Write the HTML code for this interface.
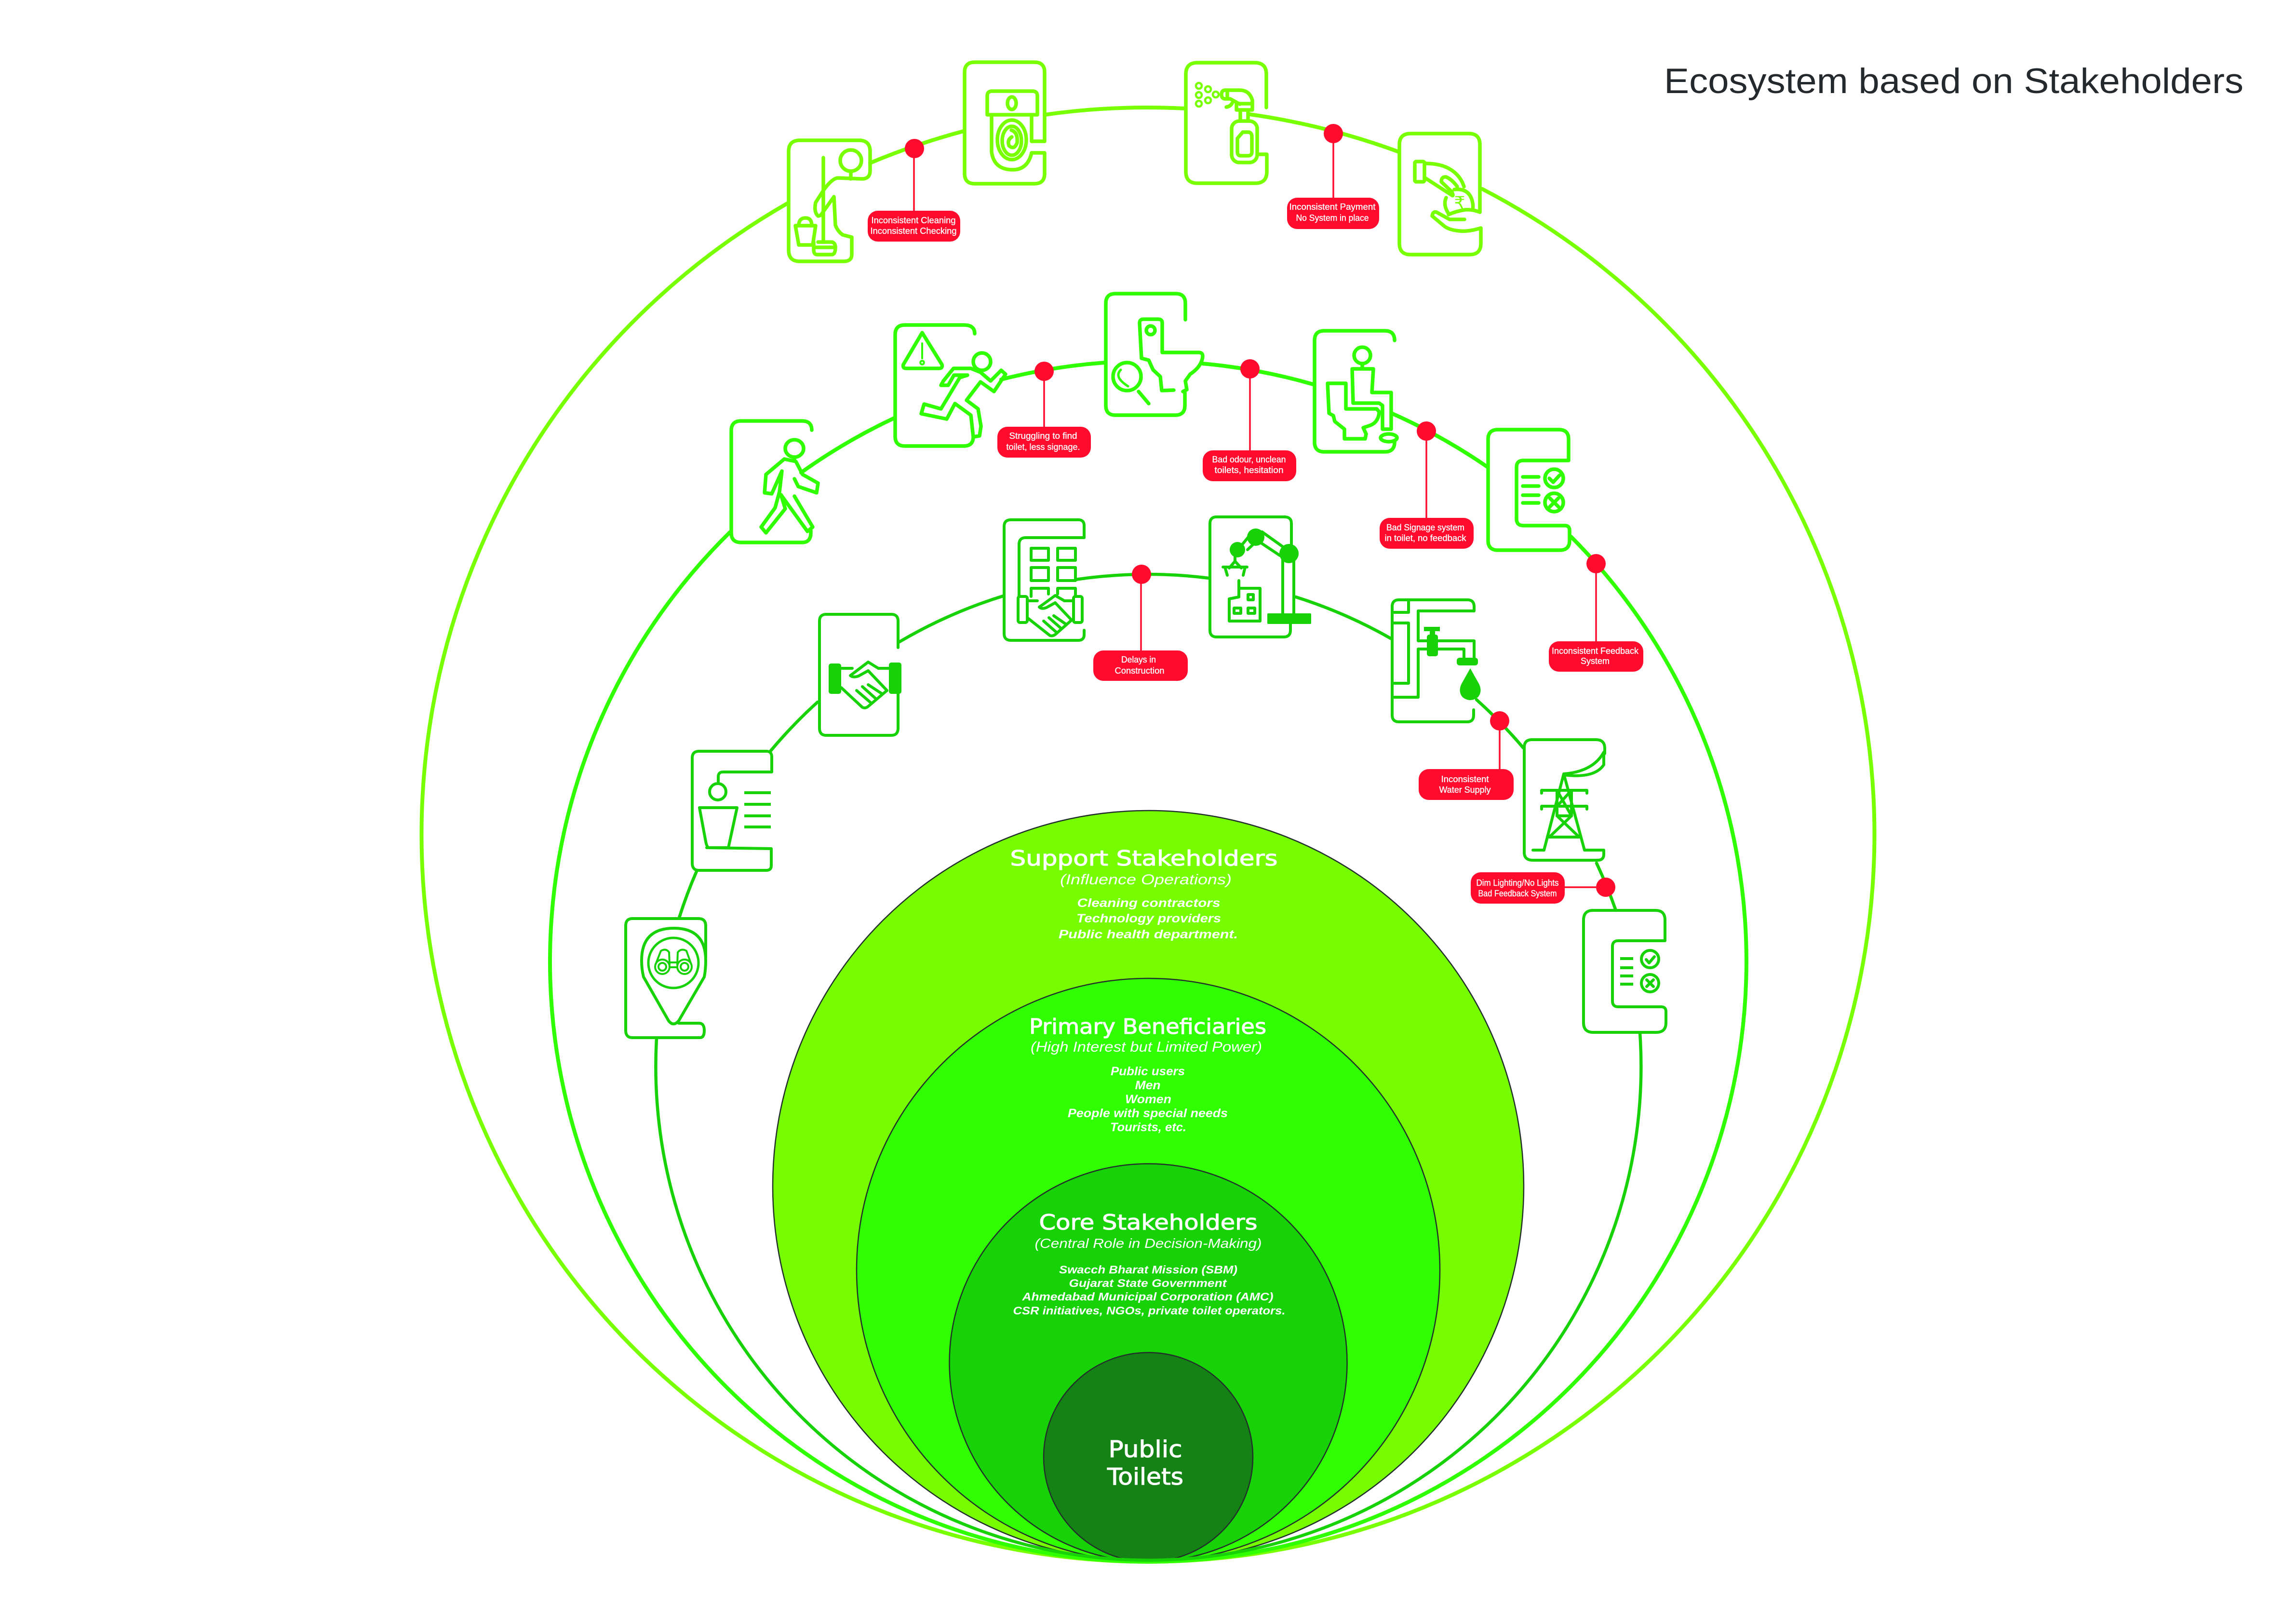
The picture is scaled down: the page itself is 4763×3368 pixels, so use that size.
<!DOCTYPE html>
<html><head><meta charset="utf-8"><title>Ecosystem based on Stakeholders</title>
<style>
html,body{margin:0;padding:0;background:#fff}
svg{display:block}
.a{fill:none;stroke-linejoin:round;stroke-linecap:round}
.o{stroke:#78ff00;stroke-width:7.5}
.m{stroke:#2fff00;stroke-width:7.5}
.i{stroke:#18d208;stroke-width:6}
.fi{fill:#18d208;stroke:none}
.lb{font-family:"Liberation Sans",sans-serif;font-size:18px;fill:#fff;stroke:#fff;stroke-width:.35;text-anchor:middle}
.h{font-family:"DejaVu Sans",sans-serif;font-size:44px;fill:#fff;stroke:#fff;stroke-width:1.1;text-anchor:middle}
.s{font-family:"Liberation Sans",sans-serif;font-size:30px;font-style:italic;fill:#fff;text-anchor:middle}
.l{font-family:"Liberation Sans",sans-serif;font-size:25px;font-style:italic;font-weight:bold;fill:#fff;text-anchor:middle}
.dot{fill:#ff0b2d}
.st{stroke:#ff0b2d;stroke-width:3.5;fill:none}
</style></head><body>
<svg width="4763" height="3368" viewBox="0 0 4763 3368" xmlns="http://www.w3.org/2000/svg">
<rect width="4763" height="3368" fill="#fff"/>

<text x="3452" y="193" font-family="Liberation Sans, sans-serif" font-size="73" fill="#24292d" textLength="1202" lengthAdjust="spacingAndGlyphs">Ecosystem based on Stakeholders</text>

<!-- Filled circles -->
<circle cx="2382" cy="2460" r="779" fill="#76fd00" stroke="#22302a" stroke-width="2.5"/>
<circle cx="2382" cy="2634" r="605" fill="#2fff00" stroke="#22302a" stroke-width="2.5"/>
<circle cx="2382" cy="2826" r="412.5" fill="#18d208" stroke="#22302a" stroke-width="2.5"/>
<circle cx="2382" cy="3022" r="217" fill="#148214" stroke="#22302a" stroke-width="2.5"/>

<!-- Outer ring -->
<g class="a" style="stroke:#78ff00;stroke-width:8">
<path d="M1633,422 A1507,1508 0 1 0 3075,392"/>
<path d="M1805,338 A1508,1508 0 0 1 1999,272"/>
<path d="M2167,238 A1508,1508 0 0 1 2458,225"/>
<path d="M2592,237 A1508,1508 0 0 1 2902,315"/>
</g>
<!-- Middle ring -->
<g class="a" style="stroke:#2fff00;stroke-width:8">
<path d="M1515,1103 A1241,1245 0 1 0 3259,1113"/>
<path d="M1662,980 A1241,1245 0 0 1 1855,867"/>
<path d="M2077,787 A1241,1245 0 0 1 2292,752"/>
<path d="M2495,754 A1241,1245 0 0 1 2724,797"/>
<path d="M2889,858 A1241,1245 0 0 1 3085,968"/>
</g>
<!-- Inner ring -->
<g class="a" style="stroke:#18d208;stroke-width:6.5">
<path d="M1362,2154 A1022,1024 0 1 0 3402,2142"/>
<path d="M1409,1903 A1022,1024 0 0 1 1445,1807"/>
<path d="M1598,1558 A1022,1024 0 0 1 1696,1456"/>
<path d="M1866,1331 A1022,1024 0 0 1 2081,1236"/>
<path d="M2231,1202 A1022,1024 0 0 1 2508,1199"/>
<path d="M2688,1238 A1022,1024 0 0 1 2885,1324"/>
<path d="M3063,1451 A1022,1024 0 0 1 3160,1551"/>
<path d="M3312,1790 A1022,1024 0 0 1 3352,1888"/>
</g>

<!-- ICON A cleaner -->
<g class="a o">
<path d="M1636,314 Q1636,291 1659,291 H1782 Q1805,291 1805,314 V354 Q1805,371 1788,371 L1738,369 Q1726,370 1708,395 L1692,420 Q1688,440 1697,448 Q1702,448 1705,443 L1730,408 L1733,467 Q1738,480 1748,487 L1767,492 V528 Q1767,542 1750,542 H1659 Q1636,542 1636,519 Z"/>
<circle cx="1765" cy="333" r="22"/>
<path d="M1765,355 V371"/>
<path d="M1708,327 V502"/>
<path d="M1697,502 H1725 Q1733,503 1733,513 Q1733,528 1725,528 H1695 Q1688,528 1688,518 V502 M1688,513 H1733"/>
<path d="M1650,468 H1692 L1686,508 H1657 Z"/>
<path d="M1657,468 Q1657,452 1671,452 Q1684,452 1684,468"/>
</g>

<!-- ICON B toilet spiral -->
<g class="a o">
<path d="M2167,293 V150 Q2167,129 2146,129 H2022 Q2001,129 2001,150 V360 Q2001,381 2022,381 H2146 Q2167,381 2167,360 V317 H2140"/>
<path d="M2167,293 H2140"/>
<path d="M2058,189 H2142 Q2152,189 2152,199 V238 H2048 V199 Q2048,189 2058,189 Z"/>
<ellipse cx="2099" cy="214" rx="9" ry="13"/>
<path d="M2057,238 V315 Q2062,352 2101,352 Q2132,352 2140,317"/>
<path d="M2140,238 V293"/>
<ellipse cx="2099" cy="290" rx="30" ry="41"/>
<ellipse cx="2099" cy="292" rx="20" ry="30"/>
<path d="M2098,270 Q2112,274 2110,296 Q2104,312 2093,302 Q2089,290 2099,284"/>
</g>

<!-- ICON C spray -->
<g class="a o">
<path d="M2627,223 V154 Q2627,130 2603,130 H2484 Q2460,130 2460,154 V356 Q2460,380 2484,380 H2604 Q2628,380 2628,356 V320 H2612"/>
<rect x="2555" y="251" width="53" height="86" rx="16"/>
<path d="M2578,274 H2589 Q2597,274 2597,284 V315 Q2597,323 2589,323 H2574 Q2567,323 2567,315 V287 Z"/>
<path d="M2573,232 V251 M2589,232 V251"/>
<path d="M2565,228 V215 H2598 V228 Z"/>
<path d="M2598,215 V208 Q2592,187 2572,187 H2542 Q2534,187 2534,196 Q2534,205 2542,205 H2552 L2572,216"/>
<path d="M2546,187 V205"/>
<path d="M2556,214 Q2552,221 2544,222"/>
</g>
<g fill="none" stroke="#78ff00" stroke-width="4.5">
<circle cx="2487" cy="178" r="6"/><circle cx="2506" cy="185" r="6"/><circle cx="2522" cy="196" r="6"/>
<circle cx="2487" cy="197" r="6"/><circle cx="2506" cy="208" r="6"/><circle cx="2487" cy="215" r="6"/>
</g>

<!-- ICON D hand coin -->
<g class="a o">
<path d="M3070,440 V300 Q3070,277 3047,277 H2926 Q2903,277 2903,300 V505 Q2903,528 2926,528 H3049 Q3072,528 3072,505 V473"/>
<path d="M3070,440 Q3055,434 3040,435 Q3020,438 3005,445"/>
<path d="M3072,473 Q3045,481 3028,479 Q3005,477 2995,468 L2971,448 Q2972,438 2980,440 L3007,455 H3038"/>
<path d="M3017,393 Q3045,390 3053,413 Q3057,425 3055,435"/>
<path d="M3000,410 Q2993,425 3005,443"/>
<rect x="2935" y="335" width="20" height="42" rx="3"/>
<path d="M2957,339 Q2990,339 3010,352 Q3030,365 3037,387"/>
<path d="M2958,370 L3012,405 Q3016,408 3012,398 L2990,377 Q2990,366 3000,367 Q3012,372 3023,387"/>
</g>
<text x="3028" y="433" font-family="DejaVu Sans, sans-serif" font-size="36" fill="#78ff00" text-anchor="middle">₹</text>

<!-- ICON E walker -->
<g class="a m">
<path d="M1684,892 Q1684,873 1664,873 H1537 Q1517,873 1517,893 V1105 Q1517,1125 1537,1125 H1664 Q1682,1125 1682,1105 V1100"/>
<ellipse cx="1648" cy="930" rx="19" ry="18"/>
<path d="M1648,948 V952"/>
<path d="M1627,952 L1589,984 L1586,1022 L1601,1024 L1622,977 L1617,1020 L1608,1053 L1579,1093 L1589,1105 L1629,1055 L1620,1026 L1675,1102 L1686,1093 L1648,1029"/>
<path d="M1627,952 L1651,957 L1665,984 L1697,1002 L1694,1022 L1656,1009 L1648,993"/>
</g>

<!-- ICON F runner -->
<g class="a m">
<path d="M2022,692 Q2022,674 2000,674 H1877 Q1857,674 1857,694 V905 Q1857,925 1877,925 H1999 Q2019,925 2019,906"/>
<path d="M1913,690 L1954,756 Q1956,764 1948,764 H1880 Q1872,764 1874,756 Z"/>
<path d="M1913,712 V743" stroke-width="4"/>
<circle cx="1913" cy="752" r="2"/>
<ellipse cx="2037" cy="750" rx="18" ry="18"/>
<path d="M1978,764 L2014,764 L2034,772 L2055,790 L2077,768 L2086,776 L2062,812 L2034,792 L2005,830 L2029,848 L2035,884 L2032,904 L2019,906 L2014,861 L1981,837 L1964,869 L1911,858 L1917,838 L1952,848 L1991,783 L2007,778 L1979,778 L1967,799 L1952,799 L1957,790 Z"/>
</g>

<!-- ICON G toilet magnifier -->
<g class="a m">
<path d="M2459,663 V629 Q2459,609 2439,609 H2314 Q2294,609 2294,629 V841 Q2294,861 2314,861 H2438 Q2458,861 2458,841 V812"/>
<path d="M2368,743 L2364,670 Q2364,662 2372,662 H2403 Q2411,662 2411,670 V731 H2487 Q2495,731 2495,739 Q2493,760 2469,776 L2459,790 L2462,808 L2454,812"/>
<path d="M2368,743 L2383,747 L2392,767 L2407,781 L2410,810 L2435,809"/>
<circle cx="2387" cy="685" r="9"/>
<circle cx="2338" cy="781" r="29"/>
<path d="M2362,812 L2383,837"/>
<path d="M2325,767 Q2310,782 2340,801" stroke-width="5"/>
</g>

<!-- ICON H sitting -->
<g class="a m">
<path d="M2893,706 Q2893,686 2873,686 H2747 Q2727,686 2727,706 V917 Q2727,937 2747,937 H2873 Q2893,937 2893,917 V915"/>
<circle cx="2826" cy="737" r="17"/>
<path d="M2826,754 V765"/>
<path d="M2805,765 H2849 L2846,814 H2886 V890 H2868 V841 L2861,836 H2807 Z"/>
<path d="M2754,795 H2792 V848 H2856 L2861,854 Q2860,875 2843,882 L2828,887 L2834,900 L2832,910 H2789 V890 L2769,874 L2766,862 L2757,857 Z"/>
<ellipse cx="2881" cy="908" rx="17" ry="8"/>
</g>

<!-- ICON I feedback middle -->
<g class="a m">
<path d="M3107,891 H3234 Q3254,891 3254,911 V955 H3160 Q3146,955 3146,969 V1076 Q3146,1090 3160,1090 H3246 Q3256,1090 3256,1100 V1121 Q3256,1141 3236,1141 H3107 Q3087,1141 3087,1121 V911 Q3087,891 3107,891 Z"/>
<path d="M3159,989 H3192 M3159,1008 H3192 M3159,1027 H3192 M3159,1043 H3192"/>
<circle cx="3224" cy="992" r="19"/>
<circle cx="3224" cy="1042" r="19"/>
<path d="M3214,992 L3222,1000 L3235,986"/>
<path d="M3215,1033 L3233,1051 M3233,1033 L3215,1051"/>
</g>

<!-- ICON J binocular pin -->
<g class="a i">
<path d="M1464,1985 V1920 Q1464,1905 1449,1905 H1312 Q1298,1905 1298,1920 V2137 Q1298,2152 1312,2152 H1452 Q1461,2152 1461,2137 Q1461,2122 1450,2122 H1408"/>
<path d="M1335,2026 Q1331,2010 1331,1992 Q1331,1925 1398,1925 Q1464,1925 1464,1992 Q1464,2010 1461,2026 L1408,2117 Q1397,2130 1387,2117 Z"/>
<circle cx="1397" cy="1997" r="52" stroke-width="5"/>
<g stroke-width="4">
<circle cx="1374" cy="2005" r="15"/><circle cx="1374" cy="2005" r="8"/>
<circle cx="1420" cy="2005" r="15"/><circle cx="1420" cy="2005" r="8"/>
<path d="M1360,2000 L1371,1972 Q1382,1966 1388,1975 L1389,2000"/>
<path d="M1434,2000 L1424,1972 Q1413,1966 1406,1975 L1405,2000"/>
<path d="M1390,1996 H1404 M1390,2006 H1404"/>
</g>
</g>

<!-- ICON K person lines -->
<g class="a i">
<path d="M1450,1558 H1590 Q1601,1558 1601,1570 V1601 H1500 Q1490,1601 1490,1611 V1624"/>
<path d="M1450,1558 Q1436,1558 1436,1572 V1790 Q1436,1805 1450,1805 H1590 Q1600,1805 1600,1795 V1760 L1466,1758"/>
<circle cx="1489" cy="1642" r="17"/>
<path d="M1451,1675 H1529 L1511,1758 H1470 Q1466,1756 1464,1745 Z"/>
<path d="M1544,1644 H1599 M1544,1668 H1599 M1544,1692 H1599 M1544,1715 H1599" style="stroke-linecap:butt"/>
</g>

<!-- ICON L handshake -->
<g class="a i">
<path d="M1863,1343 V1288 Q1863,1274 1849,1274 H1714 Q1700,1274 1700,1288 V1510 Q1700,1525 1714,1525 H1849 Q1863,1525 1863,1510 V1439"/>
<path d="M1745,1386 H1768 M1844,1386 H1822 L1801,1373 L1772,1395 L1764,1401 Q1770,1406 1781,1402 L1801,1391 L1840,1432"/>
<path d="M1745,1426 L1789,1467 Q1795,1470 1801,1465 L1840,1432"/>
<path d="M1777,1432 L1806,1457 M1789,1424 L1818,1450 M1801,1420 L1830,1439"/>
</g>
<rect class="fi" x="1719" y="1376" width="26" height="63" rx="5"/>
<rect class="fi" x="1844" y="1374" width="26" height="65" rx="5"/>

<!-- ICON M building handshake -->
<g class="a i">
<path d="M2249,1115 V1090 Q2249,1078 2237,1078 H2097 Q2083,1078 2083,1092 V1314 Q2083,1328 2097,1328 H2237 Q2249,1328 2249,1316 V1307"/>
<path d="M2249,1115 H2128 Q2114,1115 2114,1129 V1237"/>
<rect x="2139" y="1137" width="36" height="25"/><rect x="2194" y="1137" width="37" height="25"/>
<rect x="2139" y="1177" width="36" height="27"/><rect x="2194" y="1177" width="37" height="27"/>
<path d="M2139,1237 V1220 H2175 V1232 M2194,1232 V1220 H2231 V1237"/>
<rect x="2112" y="1237" width="19" height="54" rx="4"/>
<rect x="2227" y="1237" width="18" height="54" rx="4"/>
<path d="M2131,1246 H2152 M2227,1246 H2208 L2189,1235 L2163,1254 L2156,1259 Q2161,1264 2171,1260 L2189,1250 L2223,1286"/>
<path d="M2131,1281 L2178,1318 Q2183,1320 2189,1316 L2223,1286"/>
<path d="M2165,1288 L2190,1310 M2176,1281 L2201,1303 M2186,1277 L2212,1295"/>
</g>

<!-- ICON N robot -->
<g class="a i">
<path d="M2679,1140 V1086 Q2679,1072 2665,1072 H2524 Q2510,1072 2510,1086 V1307 Q2510,1321 2524,1321 H2663 Q2677,1321 2677,1307 V1294"/>
<path d="M2661,1160 V1272 M2684,1160 V1272"/>
<path d="M2578,1128 L2596,1106 M2588,1140 L2605,1124"/>
<path d="M2618,1103 L2660,1133 M2610,1122 L2655,1152"/>
<path d="M2562,1165 V1154 M2550,1178 L2562,1164 L2575,1178"/>
<path d="M2537,1176 H2587 M2541,1176 L2546,1193 M2583,1176 L2579,1193"/>
<path d="M2570,1204 V1238 L2550,1242 V1288 H2614 V1220 H2570"/>
<rect x="2589" y="1233" width="11" height="11"/>
<rect x="2560" y="1261" width="14" height="11"/>
<rect x="2589" y="1261" width="14" height="11"/>
</g>
<circle class="fi" cx="2567" cy="1140" r="16"/>
<circle class="fi" cx="2605" cy="1114" r="18"/>
<circle class="fi" cx="2674" cy="1148" r="20"/>
<rect class="fi" x="2629" y="1272" width="91" height="22" rx="2"/>

<!-- ICON O tap -->
<g class="a i">
<path d="M2942,1267 H3058 V1258 Q3058,1244 3044,1244 H2902 Q2888,1244 2888,1258 V1483 Q2888,1497 2902,1497 H3044 Q3057,1497 3057,1483 V1472"/>
<path d="M2942,1267 V1329 H3058 V1365 M2942,1446 V1346 H3037 V1365 M2942,1446 H2888"/>
<path d="M2888,1292 H2922 V1417 H2888 M2922,1244 V1270 H2888"/>
</g>
<rect class="fi" x="2954" y="1300" width="33" height="9"/>
<rect class="fi" x="2966" y="1305" width="11" height="14"/>
<rect class="fi" x="2960" y="1316" width="23" height="45" rx="5"/>
<rect class="fi" x="3022" y="1364" width="44" height="16" rx="6"/>
<path class="fi" d="M3050,1386 L3068,1418 Q3076,1434 3066,1446 Q3050,1458 3034,1446 Q3024,1434 3032,1418 Z"/>

<!-- ICON P tower -->
<g class="a i">
<path d="M3329,1563 V1552 Q3329,1534 3311,1534 H3178 Q3162,1534 3162,1550 V1768 Q3162,1784 3180,1784 H3314 Q3327,1784 3327,1772 V1763 H3287"/>
<path d="M3180,1763 H3203"/>
<path d="M3244,1605 Q3305,1600 3327,1560 V1586 Q3308,1615 3244,1607"/>
<path d="M3244,1605 L3203,1763 M3244,1605 L3287,1763"/>
<path d="M3230,1640 V1692 M3260,1640 V1692"/>
<path d="M3198,1639 H3292 M3198,1672 H3292 M3198,1639 V1645 M3292,1639 V1645 M3198,1672 V1678 M3292,1672 V1678"/>
<path d="M3230,1672 L3260,1639 M3230,1639 L3260,1692 M3230,1692 H3260 L3214,1736 H3276 L3230,1692"/>
</g>

<!-- ICON Q feedback inner -->
<g class="a i">
<path d="M3305,1888 H3434 Q3454,1888 3454,1908 V1951 H3357 Q3345,1951 3345,1963 V2076 Q3345,2088 3357,2088 H3446 Q3456,2088 3456,2098 V2121 Q3456,2141 3436,2141 H3305 Q3285,2141 3285,2121 V1908 Q3285,1888 3305,1888 Z"/>
<path d="M3361,1988 H3388 M3361,2007 H3388 M3361,2024 H3388 M3361,2041 H3388" style="stroke-linecap:butt"/>
<circle cx="3423" cy="1989" r="18"/>
<circle cx="3423" cy="2039" r="18"/>
<path d="M3415,1990 L3421,1997 L3432,1984"/>
<path d="M3416,2032 L3430,2046 M3430,2032 L3416,2046"/>
</g>

<!-- Red markers -->
<g>
<path class="st" d="M1896,308 V437 M2766,277 V410 M2166,770 V885 M2593,765 V934 M2959,894 V1074 M3311,1169 V1330 M2367,1191 V1349 M3111,1495 V1595 M3311,1840 H3246"/>
<circle class="dot" cx="1897" cy="308" r="20"/>
<circle class="dot" cx="2766" cy="277" r="20"/>
<circle class="dot" cx="2166" cy="770" r="20"/>
<circle class="dot" cx="2593" cy="765" r="20"/>
<circle class="dot" cx="2959" cy="894" r="20"/>
<circle class="dot" cx="3311" cy="1169" r="20"/>
<circle class="dot" cx="2368" cy="1191" r="20"/>
<circle class="dot" cx="3111" cy="1495" r="20"/>
<circle class="dot" cx="3331" cy="1840" r="20"/>
<rect class="dot" x="1800" y="437" width="192" height="64" rx="21"/>
<rect class="dot" x="2670" y="410" width="191" height="65" rx="21"/>
<rect class="dot" x="2069" y="885" width="194" height="64" rx="21"/>
<rect class="dot" x="2495" y="934" width="194" height="64" rx="21"/>
<rect class="dot" x="2862" y="1074" width="195" height="64" rx="21"/>
<rect class="dot" x="3213" y="1330" width="196" height="63" rx="21"/>
<rect class="dot" x="2268" y="1349" width="196" height="63" rx="21"/>
<rect class="dot" x="2943" y="1595" width="197" height="64" rx="21"/>
<rect class="dot" x="3051" y="1809" width="195" height="65" rx="21"/>
</g>
<g>
<text class="lb" x="1895" y="463" textLength="175" lengthAdjust="spacingAndGlyphs">Inconsistent Cleaning</text>
<text class="lb" x="1895" y="485" textLength="179" lengthAdjust="spacingAndGlyphs">Inconsistent Checking</text>
<text class="lb" x="2764" y="435" textLength="179" lengthAdjust="spacingAndGlyphs">Inconsistent Payment</text>
<text class="lb" x="2764" y="458" textLength="151" lengthAdjust="spacingAndGlyphs">No System in place</text>
<text class="lb" x="2164" y="910" textLength="141" lengthAdjust="spacingAndGlyphs">Struggling to find</text>
<text class="lb" x="2164" y="933" textLength="153" lengthAdjust="spacingAndGlyphs">toilet, less signage.</text>
<text class="lb" x="2591" y="959" textLength="153" lengthAdjust="spacingAndGlyphs">Bad odour, unclean</text>
<text class="lb" x="2591" y="981" textLength="143" lengthAdjust="spacingAndGlyphs">toilets, hesitation</text>
<text class="lb" x="2957" y="1100" textLength="162" lengthAdjust="spacingAndGlyphs">Bad Signage system</text>
<text class="lb" x="2957" y="1122" textLength="169" lengthAdjust="spacingAndGlyphs">in toilet, no feedback</text>
<text class="lb" x="3309" y="1356" textLength="180" lengthAdjust="spacingAndGlyphs">Inconsistent Feedback</text>
<text class="lb" x="3309" y="1377" textLength="60" lengthAdjust="spacingAndGlyphs">System</text>
<text class="lb" x="2362" y="1374" textLength="72" lengthAdjust="spacingAndGlyphs">Delays in</text>
<text class="lb" x="2364" y="1397" textLength="103" lengthAdjust="spacingAndGlyphs">Construction</text>
<text class="lb" x="3039" y="1622" textLength="99" lengthAdjust="spacingAndGlyphs">Inconsistent</text>
<text class="lb" x="3039" y="1644" textLength="107" lengthAdjust="spacingAndGlyphs">Water Supply</text>
<text class="lb" x="3148" y="1837" textLength="171" lengthAdjust="spacingAndGlyphs">Dim Lighting/No Lights</text>
<text class="lb" x="3148" y="1859" textLength="163" lengthAdjust="spacingAndGlyphs">Bad Feedback System</text>
</g>

<!-- Circle text -->
<text class="h" x="2373" y="1795" textLength="555" lengthAdjust="spacingAndGlyphs">Support Stakeholders</text>
<text class="s" x="2377" y="1834" textLength="356" lengthAdjust="spacingAndGlyphs">(Influence Operations)</text>
<text class="l" x="2383" y="1881" textLength="297" lengthAdjust="spacingAndGlyphs">Cleaning contractors</text>
<text class="l" x="2383" y="1913" textLength="300" lengthAdjust="spacingAndGlyphs">Technology providers</text>
<text class="l" x="2382" y="1946" textLength="372" lengthAdjust="spacingAndGlyphs">Public health department.</text>

<text class="h" x="2381" y="2144" textLength="492" lengthAdjust="spacingAndGlyphs">Primary Beneficiaries</text>
<text class="s" x="2378" y="2181" textLength="480" lengthAdjust="spacingAndGlyphs">(High Interest but Limited Power)</text>
<text class="l" x="2381" y="2230" textLength="154" lengthAdjust="spacingAndGlyphs">Public users</text>
<text class="l" x="2381" y="2259" textLength="53" lengthAdjust="spacingAndGlyphs">Men</text>
<text class="l" x="2382" y="2288" textLength="96" lengthAdjust="spacingAndGlyphs">Women</text>
<text class="l" x="2381" y="2317" textLength="332" lengthAdjust="spacingAndGlyphs">People with special needs</text>
<text class="l" x="2382" y="2346" textLength="158" lengthAdjust="spacingAndGlyphs">Tourists, etc.</text>

<text class="h" x="2382" y="2550" textLength="453" lengthAdjust="spacingAndGlyphs">Core Stakeholders</text>
<text class="s" x="2382" y="2588" style="font-size:28px" textLength="471" lengthAdjust="spacingAndGlyphs">(Central Role in Decision-Making)</text>
<text class="l" x="2382" y="2641" style="font-size:23px" textLength="370" lengthAdjust="spacingAndGlyphs">Swacch Bharat Mission (SBM)</text>
<text class="l" x="2381" y="2669" style="font-size:23px" textLength="327" lengthAdjust="spacingAndGlyphs">Gujarat State Government</text>
<text class="l" x="2381" y="2697" style="font-size:23px" textLength="521" lengthAdjust="spacingAndGlyphs">Ahmedabad Municipal Corporation (AMC)</text>
<text class="l" x="2384" y="2726" style="font-size:23px" textLength="565" lengthAdjust="spacingAndGlyphs">CSR initiatives, NGOs, private toilet operators.</text>

<text class="h" x="2376" y="3022" style="font-size:48px" textLength="153" lengthAdjust="spacingAndGlyphs">Public</text>
<text class="h" x="2376" y="3079" style="font-size:48px" textLength="158" lengthAdjust="spacingAndGlyphs">Toilets</text>
</svg>
</body></html>
